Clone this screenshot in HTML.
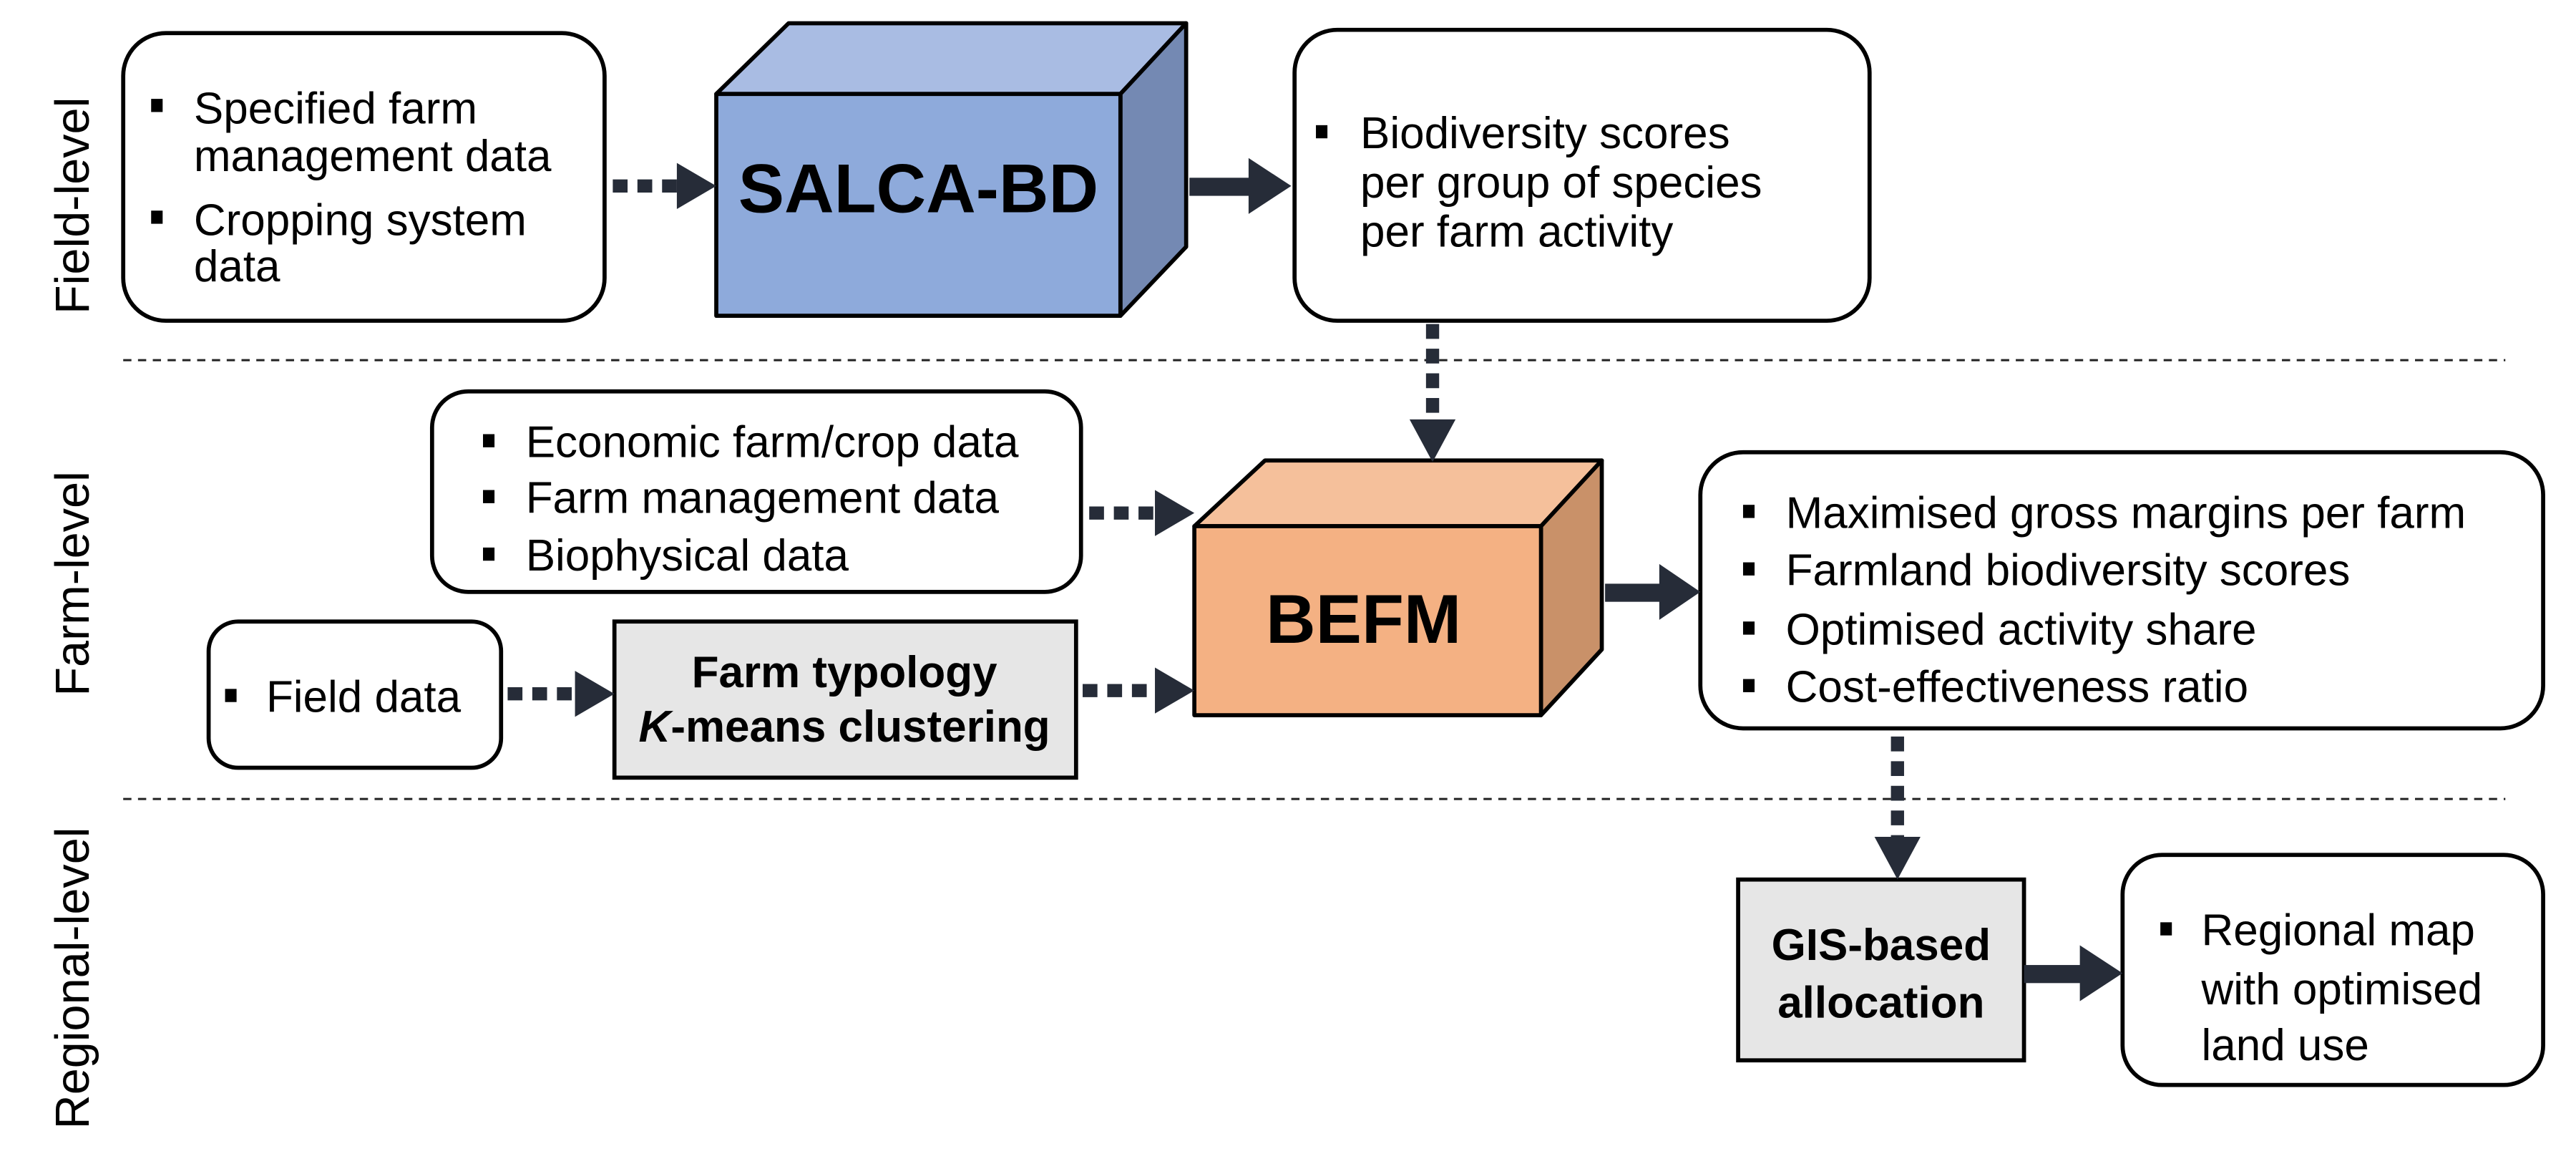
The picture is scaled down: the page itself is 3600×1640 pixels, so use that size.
<!DOCTYPE html>
<html><head><meta charset="utf-8"><style>
html,body{margin:0;padding:0;background:#fff;}
svg{display:block;}
text{font-family:"Liberation Sans",Arial,sans-serif;fill:#000;}
</style></head><body>
<svg width="3600" height="1640" viewBox="0 0 1568 714" xmlns="http://www.w3.org/2000/svg">
<text transform="translate(54,125) rotate(-90)" font-size="29" text-anchor="middle">Field-level</text>
<text transform="translate(54,355) rotate(-90)" font-size="29" text-anchor="middle">Farm-level</text>
<text transform="translate(54,595) rotate(-90)" font-size="29" text-anchor="middle">Regional-level</text>
<line x1="75" y1="219" x2="1525" y2="219" stroke="#222" stroke-width="1.3" stroke-dasharray="5,4"/>
<line x1="75" y1="486" x2="1525" y2="486" stroke="#222" stroke-width="1.3" stroke-dasharray="5,4"/>

<g fill="#fff" stroke="#000" stroke-width="2.5">
<rect x="75" y="20" width="293" height="175" rx="26"/>
<rect x="788" y="18" width="350" height="177" rx="26"/>
<rect x="263" y="238" width="395" height="122" rx="22"/>
<rect x="127" y="378" width="178" height="89" rx="18"/>
<rect x="1035" y="275" width="513" height="168" rx="26"/>
<rect x="1292" y="520" width="256" height="140" rx="24"/>
</g>
<g fill="#e6e6e6" stroke="#000" stroke-width="2.5">
<rect x="374" y="378" width="281" height="95"/>
<rect x="1058" y="535" width="174" height="110"/>
</g>
<g stroke="#000" stroke-width="2.5" stroke-linejoin="round">
<polygon points="436,57 480,14 722,14 682,57" fill="#a9bce3"/>
<polygon points="682,57 722,14 722,150 682,192" fill="#7489b3"/>
<rect x="436" y="57" width="246" height="135" fill="#8eaadb"/>
</g>
<g stroke="#000" stroke-width="2.5" stroke-linejoin="round">
<polygon points="727,320 770,280 975,280 938,320" fill="#f5c09b"/>
<polygon points="938,320 975,280 975,395 938,435" fill="#c99169"/>
<rect x="727" y="320" width="211" height="115" fill="#f4b183"/>
</g>
<text x="559" y="129" font-size="42" font-weight="bold" text-anchor="middle">SALCA-BD</text>
<text x="830" y="391" font-size="42" font-weight="bold" text-anchor="middle">BEFM</text>

<g stroke="#262c38" stroke-width="8" stroke-dasharray="9,6" fill="none">
<line x1="373" y1="113" x2="414" y2="113"/>
<line x1="872" y1="197" x2="872" y2="256"/>
<line x1="663" y1="312" x2="705" y2="312"/>
<line x1="309" y1="422" x2="352" y2="422"/>
<line x1="659" y1="420" x2="705" y2="420"/>
<line x1="1155" y1="448" x2="1155" y2="510"/>
</g>
<g fill="#262c38">
<polygon points="412,99 436,113 412,127"/>
<polygon points="858,255 886,255 872,281"/>
<polygon points="703,298 727,312 703,326"/>
<polygon points="350,408 374,422 350,436"/>
<polygon points="703,406 727,420 703,434"/>
<polygon points="1141,509 1169,509 1155,535"/>
<rect x="724" y="108" width="40" height="11"/>
<polygon points="760,96 786,113 760,130"/>
<rect x="977" y="355" width="36" height="11"/>
<polygon points="1010,343 1035,360 1010,377"/>
<rect x="1232" y="587" width="38" height="11"/>
<polygon points="1266,575 1292,592 1266,609"/>
</g>

<g fill="#000">
<rect x="92" y="60" width="7" height="8"/>
<rect x="92" y="128" width="7" height="8"/>
<rect x="801" y="76" width="7" height="8"/>
<rect x="294" y="264" width="7" height="8"/>
<rect x="294" y="298" width="7" height="8"/>
<rect x="294" y="333" width="7" height="8"/>
<rect x="137" y="419" width="7" height="8"/>
<rect x="1061" y="307" width="7" height="8"/>
<rect x="1061" y="342" width="7" height="8"/>
<rect x="1061" y="378" width="7" height="8"/>
<rect x="1061" y="413" width="7" height="8"/>
<rect x="1315" y="561" width="7" height="8"/>
</g>
<g font-size="27">
<text x="118" y="75">Specified farm</text>
<text x="118" y="104">management data</text>
<text x="118" y="143">Cropping system</text>
<text x="118" y="171">data</text>
<text x="828" y="90">Biodiversity scores</text>
<text x="828" y="120">per group of species</text>
<text x="828" y="150">per farm activity</text>
<text x="320" y="278">Economic farm/crop data</text>
<text x="320" y="312">Farm management data</text>
<text x="320" y="347">Biophysical data</text>
<text x="162" y="433">Field data</text>
<text x="1087" y="321">Maximised gross margins per farm</text>
<text x="1087" y="356">Farmland biodiversity scores</text>
<text x="1087" y="392">Optimised activity share</text>
<text x="1087" y="427">Cost-effectiveness ratio</text>
<text x="1340" y="575">Regional map</text>
<text x="1340" y="611">with optimised</text>
<text x="1340" y="645">land use</text>
</g>
<g font-size="27" font-weight="bold" text-anchor="middle">
<text x="514" y="418">Farm typology</text>
<text x="514" y="451"><tspan font-style="italic">K</tspan>-means clustering</text>
<text x="1145" y="584">GIS-based</text>
<text x="1145" y="619">allocation</text>
</g>
</svg>
</body></html>
